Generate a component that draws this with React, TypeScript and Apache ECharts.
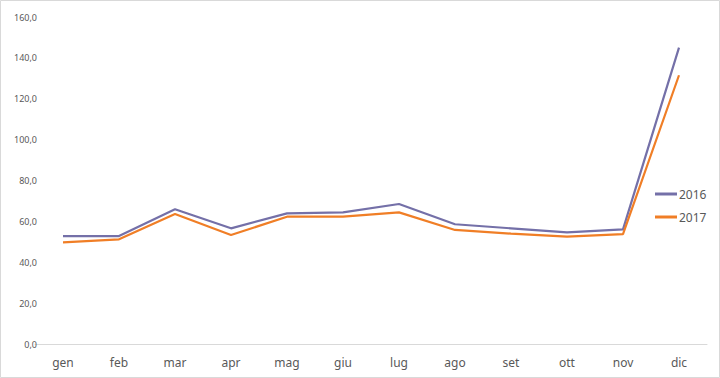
import React, { useEffect, useRef } from "react";
import * as echarts from "echarts";

const categories = ["gen", "feb", "mar", "apr", "mag", "giu", "lug", "ago", "set", "ott", "nov", "dic"];
const values2016 = [52.8, 52.8, 65.9, 56.6, 63.9, 64.4, 68.5, 58.6, 56.6, 54.6, 56.1, 145.0];
const values2017 = [49.7, 51.2, 63.6, 53.3, 62.3, 62.3, 64.4, 55.8, 54.0, 52.5, 53.8, 131.5];
const seriesNames = ["2016", "2017"];
const colors = ["#7470A8", "#F07E26"];

export default function App() {
  const ref = useRef<HTMLDivElement>(null);
  useEffect(() => {
    if (!ref.current) return;
    const chart = echarts.init(ref.current, undefined, { renderer: "svg" });
    chart.setOption({
      animation: false,
      backgroundColor: "#ffffff",
      graphic: [
        {
          type: "rect",
          shape: { x: 0.5, y: 0.5, width: 719, height: 377 },
          style: { fill: "none", stroke: "#d9d9d9", lineWidth: 1 },
          silent: true,
        },
      ],
      grid: { left: 35, right: 13, top: 17, bottom: 34 },
      legend: {
        orient: "vertical",
        left: 650,
        top: 183,
        itemWidth: 22,
        itemHeight: 3,
        itemGap: 11,
        icon: "rect",
        textStyle: { fontSize: 12, color: "#595959", fontFamily: "Noto Sans", padding: [0, 0, 0, -3] },
        data: seriesNames,
      },
      xAxis: {
        type: "category",
        data: categories,
        boundaryGap: true,
        axisLine: { show: true, lineStyle: { color: "#d9d9d9", width: 1 } },
        axisTick: { show: false },
        axisLabel: { fontSize: 12, color: "#595959", fontFamily: "Noto Sans", margin: 12 },
      },
      yAxis: {
        type: "value",
        min: 0,
        max: 160,
        interval: 20,
        axisLine: { show: false },
        axisTick: { show: false },
        splitLine: { show: false },
        axisLabel: {
          fontSize: 9,
          color: "#595959",
          fontFamily: "Noto Sans",
          margin: -2,
          formatter: (v: number) => v.toFixed(1).replace(".", ","),
        },
      },
      series: [
        {
          name: seriesNames[0],
          type: "line",
          data: values2016,
          symbol: "none",
          lineStyle: { color: colors[0], width: 2.2 },
          itemStyle: { color: colors[0] },
        },
        {
          name: seriesNames[1],
          type: "line",
          data: values2017,
          symbol: "none",
          lineStyle: { color: colors[1], width: 2.2 },
          itemStyle: { color: colors[1] },
        },
      ],
    });
    return () => chart.dispose();
  }, []);
  return (
    <div
      ref={ref}
      style={{ position: "fixed", left: 0, top: 0, width: 720, height: 378 }}
    />
  );
}
